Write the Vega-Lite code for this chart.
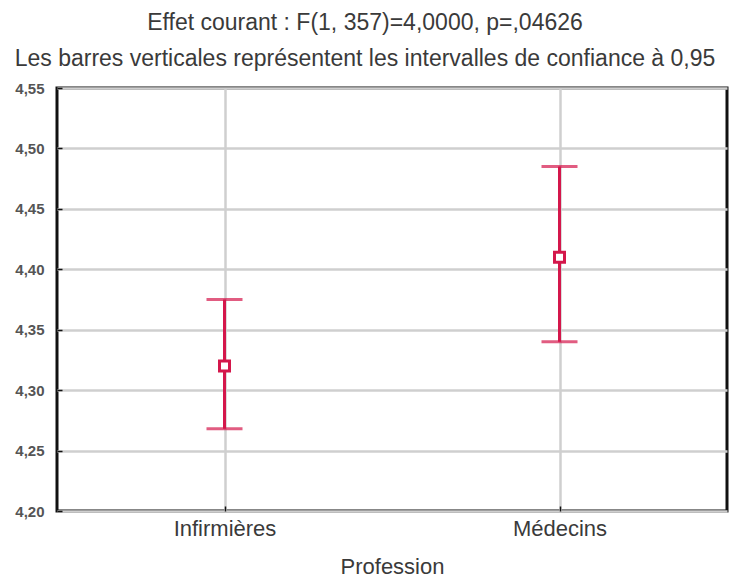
{
  "$schema": "https://vega.github.io/schema/vega-lite/v6.json",
  "autosize": {"type": "none"},
  "padding": {"left": 57, "top": 88, "right": 2, "bottom": 66},
  "width": 670,
  "height": 423,
  "background": "white",
  "title": {
    "text": ["Effet courant : F(1, 357)=4,0000, p=,04626", "Les barres verticales représentent les intervalles de confiance à 0,95"],
    "font": "Liberation Sans",
    "fontSize": 23,
    "fontWeight": "normal",
    "color": "#3a3a3a",
    "lineHeight": 36,
    "anchor": "middle",
    "dx": -27,
    "offset": 10
  },
  "config": {
    "view": {"stroke": "#111111", "strokeWidth": 3},
    "axis": {"labelFont": "Liberation Sans", "titleFont": "Liberation Sans", "domain": false}
  },
  "data": {
    "values": [
      {"Profession": "Infirmières", "mean": 4.320, "lower": 4.268, "upper": 4.375},
      {"Profession": "Médecins", "mean": 4.410, "lower": 4.340, "upper": 4.485}
    ]
  },
  "encoding": {
    "x": {
      "field": "Profession",
      "type": "nominal",
      "scale": {"type": "point", "padding": 0.5},
      "sort": ["Infirmières", "Médecins"],
      "axis": {
        "title": "Profession",
        "titleFontSize": 22,
        "titleFontWeight": "normal",
        "titleColor": "#3a3a3a",
        "titlePadding": 17,
        "labelFontSize": 22,
        "labelColor": "#3a3a3a",
        "labelAngle": 0,
        "labelPadding": 12,
        "tickSize": -5,
        "tickColor": "#111111",
        "tickWidth": 1.5,
        "grid": true,
        "gridColor": "#cfcfcf",
        "gridWidth": 2.5
      }
    }
  },
  "layer": [
    {
      "mark": {"type": "rule", "color": "#d4174b", "strokeWidth": 3},
      "encoding": {
        "y": {
          "field": "lower",
          "type": "quantitative",
          "scale": {"domain": [4.2, 4.55], "nice": false, "zero": false},
          "axis": {
            "title": null,
            "values": [4.2, 4.25, 4.3, 4.35, 4.4, 4.45, 4.5, 4.55],
            "labelExpr": "replace(format(datum.value, '.2f'), '.', ',')",
            "labelFontSize": 15,
            "labelFontWeight": "bold",
            "labelColor": "#555555",
            "labelPadding": 18,
            "tickSize": -5,
            "tickColor": "#111111",
            "tickWidth": 1.5,
            "grid": true,
            "gridColor": "#cfcfcf",
            "gridWidth": 2.5
          }
        },
        "y2": {"field": "upper"}
      }
    },
    {
      "mark": {"type": "tick", "color": "#d4174b", "thickness": 3, "size": 36, "orient": "horizontal"},
      "encoding": {"y": {"field": "lower", "type": "quantitative"}}
    },
    {
      "mark": {"type": "tick", "color": "#d4174b", "thickness": 3, "size": 36, "orient": "horizontal"},
      "encoding": {"y": {"field": "upper", "type": "quantitative"}}
    },
    {
      "mark": {"type": "point", "shape": "square", "size": 100, "filled": false, "fill": "white", "fillOpacity": 1, "stroke": "#d4174b", "strokeWidth": 3, "opacity": 1},
      "encoding": {"y": {"field": "mean", "type": "quantitative"}}
    }
  ]
}
